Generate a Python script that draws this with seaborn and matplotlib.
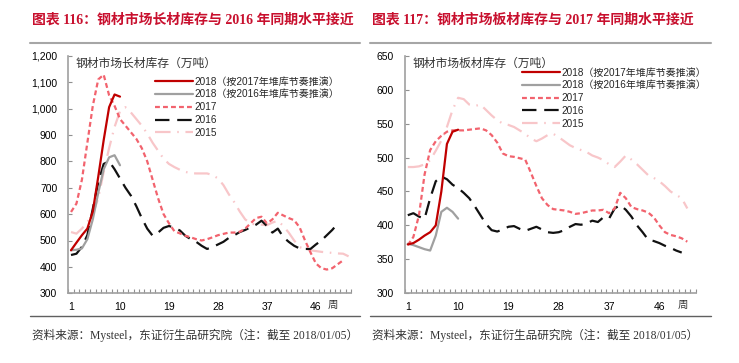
import numpy as np
import matplotlib.pyplot as plt
import seaborn as sns
from matplotlib.lines import Line2D
from matplotlib.ticker import FuncFormatter

# ---- 长材库存 (万吨), weekly ----
long_2018_a = [463, 492, 520, 545, 610, 741, 880, 1005, 1053, 1045]
long_2018_b = [463, 465, 470, 505, 580, 680, 770, 815, 823, 785]
long_2017 = [608, 640, 730, 870, 1010, 1110, 1128, 1050, 1010, 960,
             935, 910, 885, 850, 800, 730, 660, 600, 565, 535,
             527, 518, 512, 505, 500, 505, 512, 520, 525, 530,
             530, 533, 545, 565, 585, 590, 565, 580, 605, 595,
             585, 577, 550, 500, 455, 413, 395, 390, 395, 410, 425]
long_2016 = [445, 450, 476, 520, 620, 720, 790, 800, 770, 735,
             700, 670, 630, 585, 545, 518, 530, 548, 555, 548,
             538, 518, 505, 495, 480, 468, 475, 485, 495, 510,
             520, 532, 540, 550, 560, 575, 555, 530, 545, 513,
             495, 480, 470, 468, 468, 485, 500, 520, 540, 564]
long_2015 = [532, 526, 545, 570, 600, 660, 760, 850, 930, 990,
             1005, 985, 960, 935, 905, 870, 840, 810, 790, 778,
             768, 760, 755, 754, 754, 754, 748, 735, 710, 675,
             645, 610, 580, 565, 560, 560, 558, 568, 575, 555,
             530, 500, 475, 468, 463, 460, 457, 455, 453, 451, 450, 440]

# ---- 板材库存 (万吨), weekly ----
flat_2018_a = [372, 374, 379, 385, 390, 400, 450, 520, 538, 541]
flat_2018_b = [373, 371, 368, 365, 363, 385, 420, 426, 420, 410]
flat_2017 = [371, 383, 415, 475, 511, 524, 532, 538, 540, 540,
             540, 541, 542, 543, 540, 533, 522, 506, 502, 501,
             499, 497, 478, 458, 440, 430, 424, 423, 422, 420,
             417, 418, 420, 422, 422, 423, 418, 425, 448, 440,
             427, 424, 422, 419, 412, 400, 390, 386, 384, 381, 376]
flat_2016 = [415, 418, 413, 410, 440, 465, 472, 468, 460, 455,
             448, 440, 428, 415, 402, 393, 391, 394, 398, 399,
             395, 392, 395, 398, 394, 390, 389, 390, 393, 398,
             402, 401, 403, 407, 405, 412, 410, 425, 430, 423,
             413, 400, 390, 379, 377, 374, 370, 367, 363, 360]
flat_2015 = [486, 486, 487, 490, 496, 510, 525, 545, 570, 588,
             586, 578, 576, 578, 570, 562, 555, 550, 548, 545,
             540, 535, 528, 524, 528, 533, 535, 530, 524, 518,
             514, 511, 508, 503, 500, 496, 490, 486, 494, 503,
             497, 490, 482, 474, 470, 465, 458, 450, 445, 440, 425]

labels = ['2018（按2017年堆库节奏推演）', '2018（按2016年堆库节奏推演）',
          '2017', '2016', '2015']
week_ticks = [1, 10, 19, 28, 37, 46]

sns.set_theme(style='white')
sans = ['Liberation Sans', 'Noto Sans CJK SC']
serif = ['Liberation Serif', 'Noto Sans CJK SC']
plt.rcParams['font.family'] = sans

W, H = 739, 363
fig = plt.figure(figsize=(W / 100, H / 100), dpi=100)

styles = [
    dict(color='#C00000', linestyle='-', zorder=6),
    dict(color='#A0A0A0', linestyle='-', zorder=5),
    dict(color='#F2636E', linestyle=(0, (2.2, 1.4)), zorder=4),
    dict(color='#111111', linestyle=(0, (6.5, 3.5)), zorder=3),
    dict(color='#F8C6C9', linestyle=(0, (7, 3, 0.7, 3)), zorder=2),
]


def panel(left_px, width_px, series, ylim, ystep, ylabel_txt, leg_xy, thousands):
    ax = fig.add_axes([left_px / W, (H - 293.3) / H, width_px / W, 237.6 / H])
    for vals, lab, st in zip(series, labels, styles):
        wk = np.arange(1, len(vals) + 1)
        sns.lineplot(x=wk, y=vals, ax=ax, label=lab, linewidth=1.6, **st)
    ax.set_xlim(0.5, 52.5)
    ax.set_ylim(*ylim)
    ax.set_yticks(np.arange(ylim[0], ylim[1] + 1, ystep))
    if thousands:
        ax.yaxis.set_major_formatter(FuncFormatter(lambda v, p: f'{v:,.0f}'))
    ax.set_xticks(week_ticks)
    ax.set_xticks(np.arange(0.5, 53, 1), minor=True)
    ax.tick_params(axis='x', which='major', length=0, pad=6, labelsize=7.5, colors='black')
    ax.tick_params(axis='x', which='minor', direction='in', length=3, width=0.8,
                   color='#909090', bottom=True)
    ax.tick_params(axis='y', direction='in', length=3, width=0.8, color='#909090',
                   pad=8, labelsize=7.5, left=True, labelcolor='black')
    for s in ['top', 'right']:
        ax.spines[s].set_visible(False)
    for s in ['left', 'bottom']:
        ax.spines[s].set_color('#A0A0A0')
        ax.spines[s].set_linewidth(1.2)
    ax.set_xlabel('')
    ax.set_ylabel('')
    ax.grid(False)
    ax.text(0.025, 0.965, ylabel_txt, transform=ax.transAxes, ha='left', va='center',
            fontsize=8.5, color='#333333', family=serif)
    ax.legend(loc='upper left', bbox_to_anchor=leg_xy, frameon=False,
              prop=dict(family=sans, size=7.2), handlelength=3.8,
              handletextpad=0.2, labelspacing=0.28, borderpad=0, borderaxespad=0)
    return ax


panel(68.3, 283, [long_2018_a, long_2018_b, long_2017, long_2016, long_2015],
      (300, 1200), 100, '钢材市场长材库存（万吨）', (0.306, 0.912), True)
panel(405, 290.7, [flat_2018_a, flat_2018_b, flat_2017, flat_2016, flat_2015],
      (300, 650), 50, '钢材市场板材库存（万吨）', (0.401, 0.95), False)

# titles, rules, source notes
for x0, x1, title in [(30, 360, '图表 116：钢材市场长材库存与 2016 年同期水平接近'),
                      (370, 711, '图表 117：钢材市场板材库存与 2017 年同期水平接近')]:
    fig.text((x0 + 2) / W, 1 - 20 / H, title, ha='left', va='center', fontsize=10,
             color='#C8102E', weight='bold', family=serif)
    fig.add_artist(Line2D([x0 / W, x1 / W], [1 - 43 / H] * 2, color='#A6A6A6', lw=1.5))
    fig.add_artist(Line2D([x0 / W, x1 / W], [1 - 316 / H] * 2, color='#606060', lw=1.0))
    fig.text((x0 + 2) / W, 1 - 335 / H,
             '资料来源：Mysteel，东证衍生品研究院（注：截至 2018/01/05）',
             ha='left', va='center', fontsize=8.4, color='#333333', family=serif)

fig.text(333 / W, 1 - 305 / H, '周', ha='center', va='center', fontsize=7.5, color='#333333', family=serif)
fig.text(683 / W, 1 - 305 / H, '周', ha='center', va='center', fontsize=7.5, color='#333333', family=serif)

fig.savefig('out.png', dpi=100)
